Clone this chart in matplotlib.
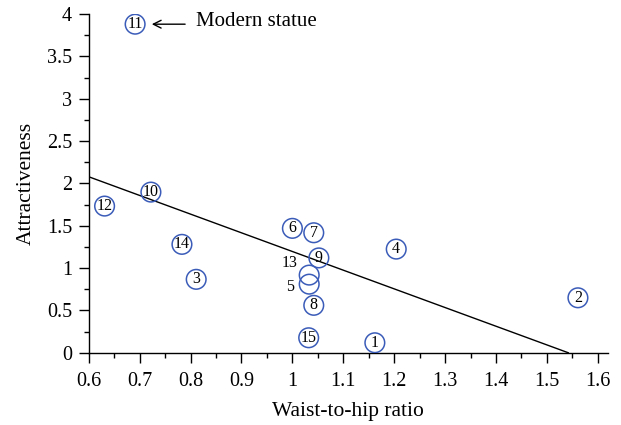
import matplotlib
matplotlib.use("Agg")
import matplotlib.pyplot as plt
from matplotlib.ticker import MultipleLocator

plt.rcParams['font.family'] = ['Liberation Serif', 'DejaVu Serif']

# Data
labels = ['1', '2', '3', '4', '5', '6', '7', '8', '9', '10', '11', '12', '13', '14', '15']
whr = [1.162, 1.561, 0.811, 1.204, 1.033, 1.000, 1.042, 1.042, 1.052, 0.722, 0.691, 0.631, 1.033, 0.783, 1.032]
attract = [0.118, 0.649, 0.867, 1.224, 0.810, 1.469, 1.417, 0.560, 1.120, 1.897, 3.880, 1.732, 0.917, 1.280, 0.177]
# labels written outside their circle (to the left)
outside_labels = ['13', '5']

# Trend line (endpoints)
trend_x = [0.6, 1.542]
trend_y = [2.078, 0.0]

circle_color = '#3b5cb8'

fig = plt.figure(figsize=(6.21, 4.25), dpi=100)
ax = fig.add_axes([0.143, 0.170, 0.836, 0.797])

ax.plot(trend_x, trend_y, color='black', lw=1.0, zorder=2)

ax.scatter(whr, attract, s=200, facecolors='none', edgecolors=circle_color,
           linewidths=1.1, zorder=3)

for lab, x, y in zip(labels, whr, attract):
    if lab in outside_labels:
        continue
    ax.text(x, y, lab, ha='center', va='center', fontsize=11.5, zorder=4)

# labels 13 and 5 placed left of their overlapping circles
ax.annotate('13', xy=(whr[12], attract[12]), xytext=(-14, 9), textcoords='offset points',
            ha='center', va='center', fontsize=11.5)
ax.annotate('5', xy=(whr[4], attract[4]), xytext=(-14, -2), textcoords='offset points',
            ha='center', va='center', fontsize=11.5)

# Modern statue annotation
ax.annotate('', xy=(whr[10], attract[10]), xytext=(36, 0), textcoords='offset points',
            arrowprops=dict(arrowstyle='->', color='black', lw=1.0,
                            shrinkA=0, shrinkB=12, mutation_scale=14))
ax.annotate('Modern statue', xy=(whr[10], attract[10]), xytext=(44, 2),
            textcoords='offset points', ha='left', va='center', fontsize=15)

ax.set_xlim(0.6, 1.62)
ax.set_ylim(0, 4)
ax.xaxis.set_minor_locator(MultipleLocator(0.05))
ax.yaxis.set_minor_locator(MultipleLocator(0.25))

ax.set_xticks([0.6, 0.7, 0.8, 0.9, 1.0, 1.1, 1.2, 1.3, 1.4, 1.5, 1.6])
ax.set_xticklabels(['0.6', '0.7', '0.8', '0.9', '1', '1.1', '1.2', '1.3', '1.4', '1.5', '1.6'])
ax.set_yticks([0, 0.5, 1, 1.5, 2, 2.5, 3, 3.5, 4])
ax.set_yticklabels(['0', '0.5', '1', '1.5', '2', '2.5', '3', '3.5', '4'])

for s in ['top', 'right']:
    ax.spines[s].set_visible(False)
for s in ['left', 'bottom']:
    ax.spines[s].set_linewidth(1.0)

ax.tick_params(axis='both', which='major', direction='out', length=7, width=1.0, labelsize=14.5)
ax.tick_params(axis='x', which='major', pad=7)
ax.tick_params(axis='y', which='major', pad=5)
ax.tick_params(axis='both', which='minor', direction='out', length=3.5, width=1.0)

ax.set_xlabel('Waist-to-hip ratio', fontsize=15.5, labelpad=8)
ax.set_ylabel('Attractiveness', fontsize=15.5, labelpad=8)

fig.savefig('out.png', dpi=100)
